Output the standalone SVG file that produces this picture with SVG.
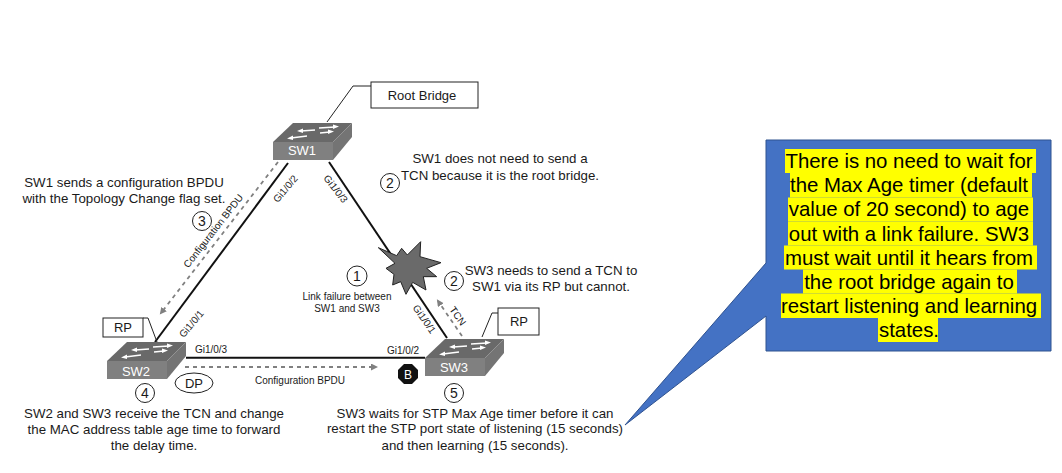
<svg xmlns="http://www.w3.org/2000/svg" width="1062" height="473" viewBox="0 0 1062 473">
<style>
text{font-family:"Liberation Sans",Arial,sans-serif;fill:#1a1a1a}
.t{font-size:13.3px;text-anchor:middle}
.s{font-size:10px;text-anchor:middle}
.b{font-size:13px;text-anchor:middle}
.n{font-size:14px;text-anchor:middle}
.sw{font-size:13px;text-anchor:middle;fill:#fff}
.c{font-size:20.4px;text-anchor:middle;fill:#000}
.hl{fill:#ffff00}
.link{stroke:#111;stroke-width:2;fill:none}
.dash{stroke:#808080;stroke-width:1.8;stroke-dasharray:4 4;fill:none}
.box{fill:#fff;stroke:#222;stroke-width:1}
.lead{fill:none;stroke:#222;stroke-width:1}
.top{fill:#696969}.front{fill:#808080}.side{fill:#747474}
.ar{stroke:#fff;stroke-width:1.3;fill:none}.ah{fill:#fff}
</style>
<defs>
<marker id="gh" markerWidth="8" markerHeight="8" refX="5" refY="3.5" orient="auto" markerUnits="userSpaceOnUse"><path d="M0 0L7 3.5L0 7Z" fill="#808080"/></marker>
<g id="swbody">
<path class="top" d="M0 0L20-19H79L60 0Z"/>
<path class="front" d="M0 0H60V18H0Z"/>
<path class="side" d="M60 0L79-19V-5L60 18Z"/>
<path class="ar" d="M28-11L42-12M46-14L62-15M47-9L57-10M18-4L34-6"/>
<path class="ah" d="M24-11L30-13.500V-9ZM66-15.500L60-17.500V-13ZM61-10.500L55-12.500V-8ZM14-3.500L20-6.500V-2Z"/>
</g>
</defs>
<rect width="1062" height="473" fill="#fff"/>
<g id="connectors">
<path class="link" d="M288 163L155 342"/>
<path class="link" d="M329 162L447 338"/>
<path class="link" d="M186 357.700H425"/>
<path class="dash" d="M278 162L161 313" marker-end="url(#gh)"/>
<path class="dash" d="M185 367H376" marker-end="url(#gh)"/>
<path class="dash" d="M462 336L438 301" marker-end="url(#gh)"/>
<path class="lead" d="M371 86H353L327 122"/>
<path class="lead" d="M143 318H148L157 342"/>
<path class="lead" d="M498 313H492L482 337"/>
</g>
<g id="link-failure">
<polygon transform="translate(370 235) scale(.3333)" fill="#6a6a6a" stroke="#222" stroke-width="3" points="25,38 80,62 95,40 112,60 152,20 150,65 213,83 170,100 200,125 160,125 168,165 128,142 108,178 92,140 68,150 72,118 48,100 75,85"/>
</g>
<g id="sw1"><use href="#swbody" x="273" y="142"/><text class="sw" x="302" y="155">SW1</text></g>
<g id="sw2"><use href="#swbody" x="107" y="361"/><text class="sw" x="136" y="376">SW2</text></g>
<g id="sw3"><use href="#swbody" x="425" y="358"/><text class="sw" x="454" y="372">SW3</text></g>
<g id="root-bridge"><rect class="box" x="371" y="82" width="107" height="26"/><text class="b" x="422" y="100">Root Bridge</text></g>
<g id="rp-sw2"><rect class="box" x="103" y="318" width="40" height="19"/><text class="b" x="123" y="332">RP</text></g>
<g id="rp-sw3"><rect class="box" x="498" y="308" width="41" height="27"/><text class="b" x="519" y="326">RP</text></g>
<g id="dp"><ellipse class="box" cx="194" cy="383" rx="19" ry="10"/><text class="b" x="194" y="388">DP</text></g>
<g id="blocked"><polygon fill="#111" points="404,364 412,364 418,370 418,378 412,384 404,384 398,378 398,370"/><text x="408" y="379" font-size="12" text-anchor="middle" style="fill:#fff">B</text></g>
<g id="port-labels">
<text class="s" transform="translate(288 191) rotate(-50)">Gi1/0/2</text>
<text class="s" transform="translate(333 191) rotate(52)">Gi1/0/3</text>
<text class="s" transform="translate(194 326) rotate(-50)">Gi1/0/1</text>
<text class="s" transform="translate(421.500 321) rotate(55)">Gi1/0/1</text>
<text class="s" x="211" y="353">Gi1/0/3</text>
<text class="s" x="403" y="354">Gi1/0/2</text>
<text class="s" transform="translate(216 233) rotate(-52)">Configuration BPDU</text>
<text class="s" x="300" y="384">Configuration BPDU</text>
<text class="s" transform="translate(455 318) rotate(55)">TCN</text>
</g>
<g id="step-1"><circle class="box" cx="357" cy="276" r="10"/><text class="n" x="357" y="281">1</text>
<text class="s" x="347" y="300">Link failure between</text><text class="s" x="347" y="312">SW1 and SW3</text></g>
<g id="step-2a"><circle class="box" cx="390" cy="183" r="9.500"/><text class="n" x="390" y="188">2</text>
<text class="t" x="500" y="163">SW1 does not need to send a</text><text class="t" x="500" y="180">TCN because it is the root bridge.</text></g>
<g id="step-2b"><circle class="box" cx="454" cy="281" r="9.500"/><text class="n" x="454" y="286">2</text>
<text class="t" x="551" y="275">SW3 needs to send a TCN to</text><text class="t" x="551" y="291">SW1 via its RP but cannot.</text></g>
<g id="step-3"><circle class="box" cx="202" cy="221" r="9.500"/><text class="n" x="202" y="226">3</text>
<text class="t" x="124" y="187">SW1 sends a configuration BPDU</text><text class="t" x="124" y="203">with the Topology Change flag set.</text></g>
<g id="step-4"><circle class="box" cx="145" cy="393" r="9.500"/><text class="n" x="145" y="398">4</text>
<text class="t" x="154" y="418">SW2 and SW3 receive the TCN and change</text><text class="t" x="154" y="434">the MAC address table age time to forward</text><text class="t" x="154" y="450">the delay time.</text></g>
<g id="step-5"><circle class="box" cx="454" cy="393" r="9.500"/><text class="n" x="454" y="398">5</text>
<text class="t" x="475" y="418">SW3 waits for STP Max Age timer before it can</text><text class="t" x="475" y="433">restart the STP port state of listening (15 seconds)</text><text class="t" x="475" y="450">and then learning (15 seconds).</text></g>
<g id="callout">
<path d="M766 140H1051V351H766V316L625 425L766 263Z" fill="#4472c4" stroke="#2f528f" stroke-width="1"/>
<rect class="hl" x="785" y="149" width="251" height="24"/>
<rect class="hl" x="790" y="173" width="242" height="24.500"/>
<rect class="hl" x="788" y="197.500" width="245" height="24"/>
<rect class="hl" x="788" y="221.500" width="245" height="24"/>
<rect class="hl" x="784" y="245.500" width="253" height="24"/>
<rect class="hl" x="803" y="269.500" width="214" height="24"/>
<rect class="hl" x="781" y="293.500" width="260" height="24.500"/>
<rect class="hl" x="878" y="318" width="60" height="24"/>
<text class="c" x="909" y="168">There is no need to wait for</text>
<text class="c" x="909" y="192">the Max Age timer (default</text>
<text class="c" x="909" y="216">value of 20 second) to age</text>
<text class="c" x="909" y="241">out with a link failure. SW3</text>
<text class="c" x="909" y="265">must wait until it hears from</text>
<text class="c" x="909" y="289">the root bridge again to</text>
<text class="c" x="909" y="313">restart listening and learning</text>
<text class="c" x="909" y="337">states.</text>
</g>
</svg>
